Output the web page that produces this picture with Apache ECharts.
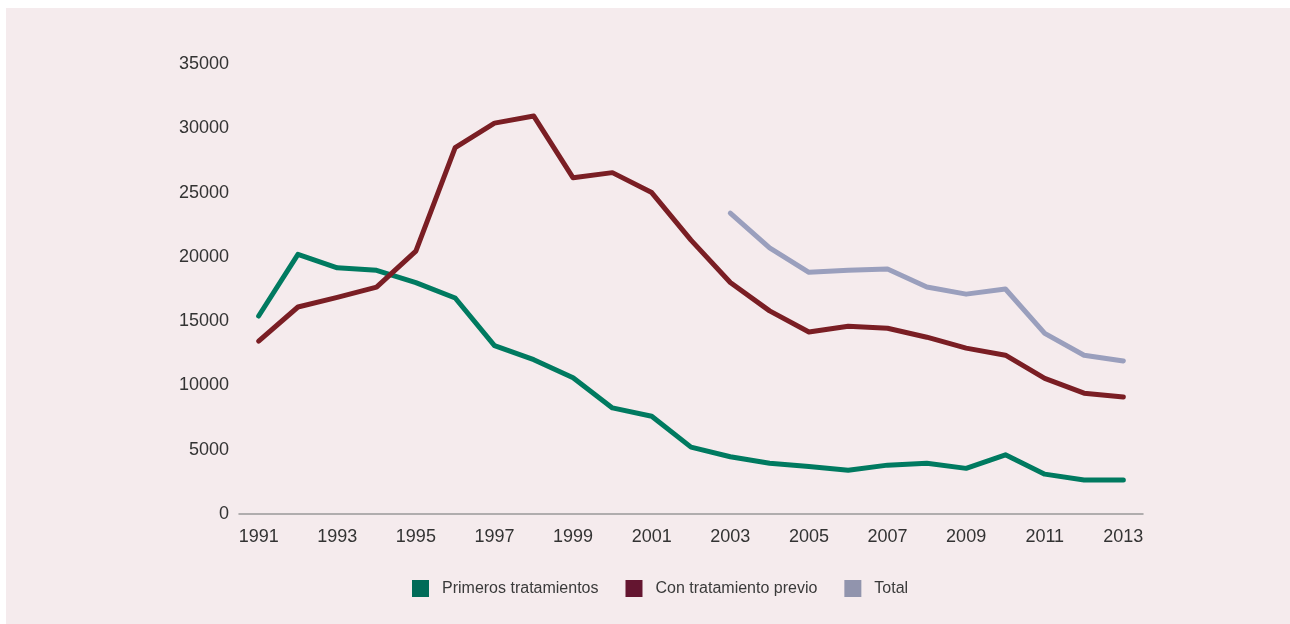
<!DOCTYPE html>
<html>
<head>
<meta charset="utf-8">
<script src="https://cdn.jsdelivr.net/npm/echarts@6/dist/echarts.min.js"></script>
<style>
  html, body { margin: 0; padding: 0; background: #fff; }
  #main { position: absolute; left: 6px; top: 8px; width: 1284px; height: 616px; background: #f5ebed; }
</style>
</head>
<body>
<div id="main"></div>
<script>
// años
var years = ['1991','1992','1993','1994','1995','1996','1997','1998','1999','2000','2001','2002',
  '2003','2004','2005','2006','2007','2008','2009','2010','2011','2012','2013'];
// Primeros tratamientos
var primeros = [15400, 20200, 19150, 18950, 18000, 16800, 13100, 12000, 10600, 8250, 7600, 5200,
  4450, 3950, 3700, 3400, 3800, 3950, 3550, 4600, 3100, 2650, 2650];
// Con tratamiento previo
var previo = [13450, 16100, 16850, 17650, 20450, 28500, 30400, 30950, 26150, 26550, 25000, 21300,
  18000, 15800, 14150, 14600, 14450, 13750, 12900, 12350, 10550, 9400, 9100];
// Total (solo desde 2003)
var total = [null, null, null, null, null, null, null, null, null, null, null, null,
  23400, 20700, 18800, 18950, 19050, 17650, 17100, 17500, 14050, 12350, 11900];
var yTicks = [0, 5000, 10000, 15000, 20000, 25000, 30000, 35000];

var myChart = echarts.init(document.getElementById('main'));
var font = 'Liberation Sans, Arial, sans-serif';
var option = {
  backgroundColor: '#f5ebed',
  animation: false,
  grid: { left: 233, right: 147, top: 56, bottom: 110 },
  legend: {
    left: 406,
    top: 572,
    padding: 0,
    itemWidth: 17,
    itemHeight: 17,
    itemGap: 27,
    icon: 'rect',
    textStyle: { fontFamily: font, fontSize: 16, color: '#3a3a3a', padding: [0, 0, 0, 8] },
    data: [
      { name: 'Primeros tratamientos', itemStyle: { color: '#006b58' } },
      { name: 'Con tratamiento previo', itemStyle: { color: '#641530' } },
      { name: 'Total', itemStyle: { color: '#9194ad' } }
    ]
  },
  xAxis: {
    type: 'category',
    data: years,
    boundaryGap: true,
    axisTick: { show: false },
    axisLine: { lineStyle: { color: '#999', width: 1.5 } },
    axisLabel: { interval: 1, margin: 14, fontFamily: font, fontSize: 18, color: '#333' }
  },
  yAxis: {
    type: 'value',
    min: yTicks[0],
    max: yTicks[yTicks.length - 1],
    interval: 5000,
    axisLine: { show: false },
    axisTick: { show: false },
    splitLine: { show: false },
    axisLabel: {
      margin: 10, fontFamily: font, fontSize: 18, color: '#333',
      formatter: function(v) { return String(v); }
    }
  },
  series: [
    { name: 'Primeros tratamientos', type: 'line', data: primeros, symbol: 'none',
      lineStyle: { color: '#007a60', width: 5, cap: 'round', join: 'round' }, itemStyle: { color: '#007a60' } },
    { name: 'Con tratamiento previo', type: 'line', data: previo, symbol: 'none',
      lineStyle: { color: '#7a1e24', width: 5, cap: 'round', join: 'round' }, itemStyle: { color: '#7a1e24' } },
    { name: 'Total', type: 'line', data: total, symbol: 'none',
      lineStyle: { color: '#9a9fbd', width: 5, cap: 'round', join: 'round' }, itemStyle: { color: '#9a9fbd' } }
  ]
};
myChart.setOption(option);
</script>
</body>
</html>
